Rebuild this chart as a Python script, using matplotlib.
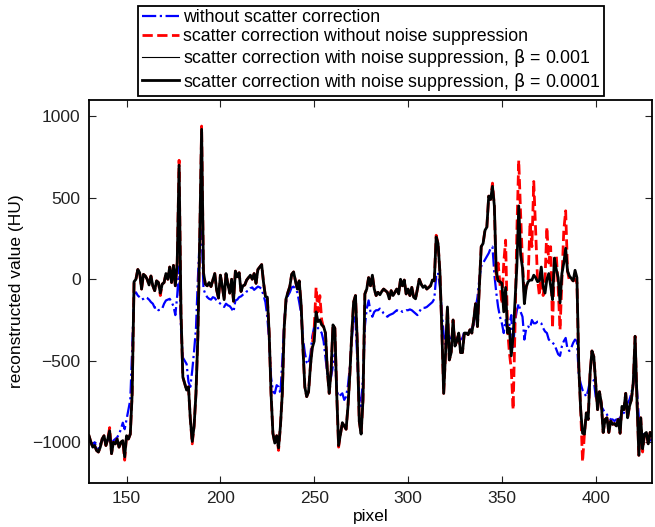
import numpy as np
import matplotlib
matplotlib.use("Agg")
import matplotlib.pyplot as plt

plt.rcParams['font.family'] = ['Liberation Sans', 'DejaVu Sans']
plt.rcParams['font.size'] = 12

# pixel index along the profile
pixel = np.arange(130, 431)

# scatter correction with noise suppression (beta = 0.0001)
black_thick = [
    -960, -1000, -1030, -1020, -1050, -1060, -1030, -980, -960, -1020,   # 130
    -980, -930, -1070, -1000, -1010, -980, -1030, -1000, -990, -1090,    # 140
    -960, -980, -950, -700, -15, 0, 60, 40, -60, 30,                     # 150
    20, 0, -35, 20, -40, -70, -10, -20, -85, -30,                        # 160
    -20, 35, 0, 75, -20, 85, -40, 100, 700, -200,                        # 170
    -600, -640, -680, -660, -860, -995, -900, -700, -350, 250,           # 180
    920, 40, -30, -40, -20, -45, -5, 35, -65, -115,                      # 190
    25, -40, -125, 35, -30, -85, 0, -135, 50, 15,                        # 200
    40, -75, -40, -35, -5, 10, 25, 0, 35, -25,                           # 210
    60, 75, 90, -20, -105, -110, -330, -700, -945, -1005,                # 220
    -960, -1035, -900, -700, -300, -120, -80, -45, 30, 45,               # 230
    -10, -60, -10, -150, -420, -660, -720, -690, -530, -420,             # 240
    -380, -200, -260, -250, -280, -290, -330, -560, -700, -560,          # 250
    -280, -300, -700, -1020, -950, -880, -900, -920, -780, -580,         # 260
    -340, -140, -100, -400, -870, -950, -740, -90, -60, 10,              # 270
    -40, 25, -60, -100, -80, -95, -75, -60, -70, -80,                    # 280
    -120, -70, -100, -80, -60, -90, 0, -40, -5, -90,                     # 290
    -60, -100, -50, -110, -120, -60, 0, -30, -50, -40,                   # 300
    -60, -50, -40, -5, -10, 260, 220, 40, -300, -700,                    # 310
    -450, -170, -495, -450, -250, -410, -380, -330, -450, -450,          # 320
    -330, -330, -340, -310, -330, -250, -150, -290, -45, 200,            # 330
    220, 300, 320, 510, 490, 570, 450, 50, -10, -15,                     # 340
    -25, -200, -50, -330, -300, -470, -350, -130, 80, 450,               # 350
    150, 70, -150, -45, -15, -5, -5, 25, 10, -15,                        # 360
    -10, 75, -45, -85, 0, 35, -40, -125, 130, 60,                        # 370
    10, -145, 35, 100, 190, 50, 20, 5, -10, 55,                          # 380
    10, -540, -800, -945, -950, -820, -860, -580, -440, -475,            # 390
    -640, -800, -690, -760, -940, -860, -850, -940, -870, -890,          # 400
    -885, -900, -860, -945, -780, -800, -700, -850, -780, -740,          # 410
    -640, -350, -740, -1080, -850, -1040, -950, -940, -1010, -940,       # 420
    -960,                                                                # 430
]

# scatter correction with noise suppression (beta = 0.001), nearly identical
black_thin = list(black_thick)

# scatter correction without noise suppression
red = [
    -960, -1000, -1030, -1020, -1050, -1060, -1030, -980, -960, -1020,
    -980, -910, -1070, -1000, -1010, -980, -1030, -1000, -990, -1110,
    -960, -980, -950, -700, -15, 0, 60, 40, -60, 30,
    20, 0, -35, 20, -40, -70, -10, -20, -100, -30,
    -20, 35, 0, 75, -20, 85, -40, 100, 730, -200,
    -600, -640, -680, -660, -860, -1010, -900, -700, -350, 250,
    940, 40, -30, -40, -20, -45, -5, 35, -65, -115,
    25, -40, -125, 35, -30, -85, 0, -135, 50, 15,
    40, -75, -40, -35, -5, 10, 25, 0, 35, -25,
    60, 75, 90, -20, -105, -110, -330, -700, -945, -1005,
    -960, -1050, -900, -700, -300, -120, -80, -45, 30, 45,
    -10, -60, -10, -150, -420, -660, -720, -690, -530, -400,
    -300, -50, -200, -100, -250, -300, -330, -560, -700, -560,
    -280, -300, -700, -1030, -950, -880, -900, -920, -780, -580,
    -340, -140, -100, -400, -870, -950, -740, -90, -60, 10,
    -40, 25, -60, -100, -80, -95, -75, -60, -70, -80,
    -120, -70, -100, -80, -60, -90, 0, -40, -5, -90,
    -60, -100, -50, -110, -120, -60, 0, -30, -50, -40,
    -60, -50, -40, -5, -10, 270, 220, 40, -300, -700,
    -450, -170, -495, -450, -250, -410, -380, -330, -450, -450,
    -330, -330, -340, -310, -330, -250, -150, -290, -45, 200,
    220, 300, 320, 510, 490, 590, 450, 0, 100, -30,
    -150, 100, 240, -300, -450, -550, -800, -300, 300, 730,
    400, 100, -100, -50, 0, 350, 200, 600, 300, 0,
    -100, 50, -100, 0, 320, 100, 200, -300, 100, 150,
    -50, -310, 0, 300, 420, 50, -10, 0, -10, 0,
    -20, -540, -800, -1120, -950, -820, -860, -580, -440, -475,
    -640, -800, -690, -760, -940, -860, -850, -940, -870, -890,
    -885, -900, -860, -945, -780, -800, -700, -850, -780, -740,
    -640, -350, -740, -1080, -850, -1060, -950, -940, -1010, -940,
    -960,
]

# without scatter correction
blue = [
    -980, -1000, -1020, -1000, -1030, -1040, -1010, -990, -980, -1000,
    -990, -960, -1010, -990, -980, -970, -950, -920, -880, -920,
    -860, -800, -740, -430, -90, -80, -100, -110, -125, -120,
    -110, -115, -125, -140, -150, -175, -170, -190, -185, -180,
    -150, -130, -125, -120, -140, -165, -220, -100, 80, -300,
    -480, -500, -520, -630, -660, -560, -440, -300, 0, 250,
    300, -60, -90, -110, -120, -125, -110, -115, -130, -140,
    -150, -160, -170, -150, -160, -165, -180, -200, -130, -125,
    -110, -105, -95, -90, -75, -70, -55, -50, -65, -55,
    -45, -50, -60, -100, -140, -230, -380, -600, -690, -700,
    -650, -660, -700, -500, -260, -140, -100, -80, -50, -45,
    -60, -80, -140, -210, -360, -450, -510, -520, -460, -350,
    -290, -280, -300, -310, -330, -380, -480, -580, -610, -600,
    -530, -460, -680, -720, -710, -700, -740, -720, -650, -540,
    -380, -230, -250, -500, -720, -780, -600, -290, -180, -130,
    -200, -230, -200, -190, -190, -180, -190, -210, -220, -230,
    -220, -215, -210, -200, -190, -195, -190, -200, -195, -190,
    -190, -185, -190, -200, -210, -220, -200, -180, -175, -175,
    -170, -160, -150, -140, -120, 20, 40, -50, -200, -340,
    -400, -330, -350, -380, -360, -350, -370, -370, -370, -360,
    -320, -330, -330, -320, -300, -280, -180, -110, 0, 80,
    100, 120, 140, 160, 190, 200, 30, -80, -170, -230,
    -270, -330, -250, -320, -280, -220, -430, -260, -190, -150,
    -200, -230, -370, -300, -290, -300, -250, -270, -270, -260,
    -260, -270, -300, -320, -330, -370, -380, -390, -400, -430,
    -460, -470, -410, -380, -360, -430, -440, -420, -390, -370,
    -380, -590, -640, -680, -700, -720, -680, -620, -610, -620,
    -720, -750, -720, -780, -800, -820, -830, -850, -860, -860,
    -870, -860, -860, -850, -830, -820, -790, -760, -740, -700,
    -640, -580, -680, -850, -950, -1000, -940, -950, -970, -990,
    -980,
]

fig = plt.figure(figsize=(6.55, 5.27), dpi=100)
ax = fig.add_axes([0.1359, 0.0835, 0.8595, 0.7268])

ax.plot(pixel, blue, color='#0000ff', ls='-.', lw=1.6,
        label='without scatter correction')
ax.plot(pixel, red, color='#ff0000', ls='--', lw=2.0,
        label='scatter correction without noise suppression')
ax.plot(pixel, black_thin, color='k', lw=0.8,
        label=r'scatter correction with noise suppression, $\mathrm{\beta}$ = 0.001')
ax.plot(pixel, black_thick, color='k', lw=2.0,
        label=r'scatter correction with noise suppression, $\mathrm{\beta}$ = 0.0001')

ax.set_xlim(130, 430)
ax.set_ylim(-1250, 1100)
ax.set_xticks([150, 200, 250, 300, 350, 400])
ax.set_yticks([-1000, -500, 0, 500, 1000])
ax.tick_params(direction='in', top=True, right=True, length=5, labelsize=12.5,
               colors='#222222', width=0.8, pad=6)
for sp in ax.spines.values():
    sp.set_linewidth(1.3)
ax.set_xlabel('pixel', fontsize=12.5, labelpad=2)
ax.set_ylabel('reconstructed value (HU)', fontsize=12.5, labelpad=6)

leg = fig.legend(loc='upper left', bbox_to_anchor=(0.211, 0.989),
                 fontsize=12.8, frameon=True, fancybox=False, handlelength=2.1,
                 handletextpad=0.2, borderpad=0.2, labelspacing=0.1,
                 borderaxespad=0)
leg.get_frame().set_edgecolor('k')
leg.get_frame().set_linewidth(1.3)
leg.get_frame().set_alpha(1)

fig.savefig('out.png', dpi=100)
